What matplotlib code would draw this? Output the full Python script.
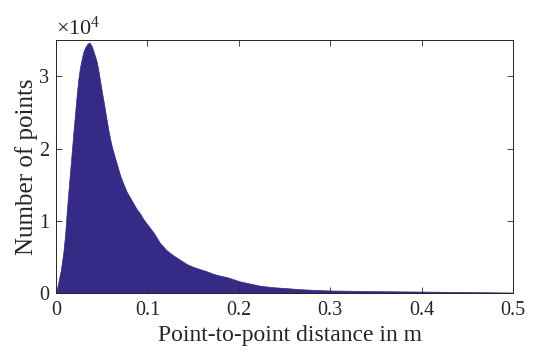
import matplotlib
matplotlib.use("Agg")
import matplotlib.pyplot as plt
import numpy as np

plt.rcParams['font.family'] = ['Liberation Serif', 'DejaVu Serif']
plt.rcParams['mathtext.fontset'] = 'custom'
plt.rcParams['mathtext.rm'] = 'Liberation Serif'
plt.rcParams['mathtext.it'] = 'Liberation Serif'

# Outline of the histogram (distance in m, number of points)
distance = [0.0, 0.0026, 0.0055, 0.0080, 0.0099, 0.0117, 0.0135, 0.0153, 0.0172, 0.0190,
            0.0208, 0.0226, 0.0245, 0.0263, 0.0281, 0.0299, 0.0318, 0.0343, 0.0365, 0.0391,
            0.0409, 0.0427, 0.0446, 0.0464, 0.0482, 0.0500, 0.0518, 0.0537, 0.0555, 0.0573,
            0.0591, 0.0610, 0.0628, 0.0646, 0.0665, 0.0701, 0.0738, 0.0774, 0.0811, 0.0847,
            0.0884, 0.0920, 0.0957, 0.0993, 0.1066, 0.1139, 0.1212, 0.1285, 0.1358, 0.1431,
            0.1504, 0.1577, 0.1650, 0.1723, 0.1796, 0.1869, 0.1942, 0.2015, 0.2088, 0.2161,
            0.2234, 0.2307, 0.2380, 0.2526, 0.2672, 0.2818, 0.3000, 0.3500, 0.4000, 0.4500,
            0.5000]
n_points = [0, 1500, 3350, 5650, 8000, 11200, 14000, 16700, 19500, 22300,
            24800, 27400, 29700, 31300, 32400, 33400, 34000, 34500, 34700, 34200,
            33500, 32800, 32000, 30800, 29400, 28000, 26700, 25300, 23900, 22600,
            21400, 20300, 19500, 18700, 17900, 16300, 15100, 14000, 13200, 12400,
            11600, 11000, 10200, 9600, 8400, 6900, 5900, 5200, 4600, 4000,
            3600, 3300, 3000, 2650, 2400, 2200, 1900, 1600, 1400, 1200,
            1000, 900, 800, 670, 530, 440, 350, 260, 200, 130,
            70]

x_ticks = [0, 0.1, 0.2, 0.3, 0.4, 0.5]
x_tick_labels = ['0', '0.1', '0.2', '0.3', '0.4', '0.5']
y_ticks = [0, 10000, 20000, 30000]
y_tick_labels = ['0', '1', '2', '3']

color = '#352a86'
tc = '#262626'

fig = plt.figure(figsize=(5.35, 3.52), dpi=100)
ax = fig.add_axes([0.1047, 0.1676, 0.8542, 0.7179])

ax.fill_between(distance, 0, n_points, color=color, linewidth=0.5, edgecolor=color)

ax.set_xlim(0, 0.5)
ax.set_ylim(0, 35000)
ax.set_xticks(x_ticks)
ax.set_xticklabels(x_tick_labels)
ax.set_yticks(y_ticks)
ax.set_yticklabels(y_tick_labels)
ax.tick_params(direction='in', top=True, right=True, labelsize=14.5,
               length=4, width=0.6, color=tc, labelcolor=tc)
ax.tick_params(axis='x', pad=6)
ax.tick_params(axis='y', pad=5)
for s in ax.spines.values():
    s.set_linewidth(0.7)
    s.set_color(tc)
ax.set_axisbelow(False)

ax.set_xlabel('Point-to-point distance in m', fontsize=17, color=tc, labelpad=3)
ax.xaxis.label.set_x(0.513)
ax.set_ylabel('Number of points', fontsize=18, color=tc, labelpad=1)
ax.text(0.0, 1.02, r'$\times10^{4}$', transform=ax.transAxes, fontsize=16,
        color=tc, ha='left', va='baseline')

fig.savefig('out.png', dpi=100)
